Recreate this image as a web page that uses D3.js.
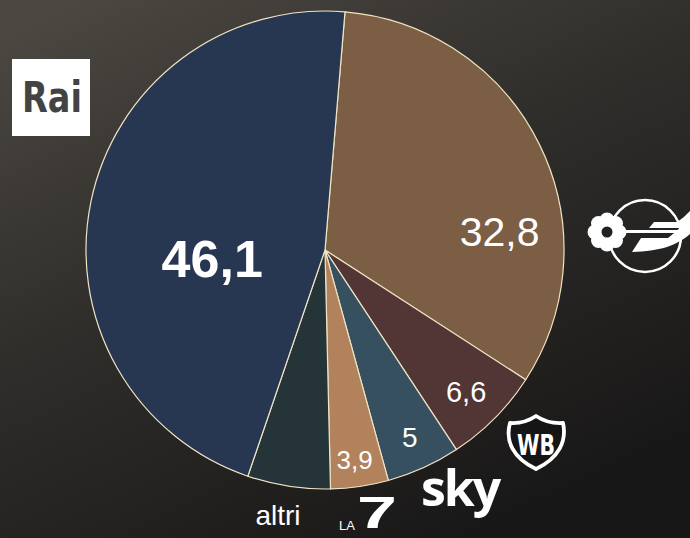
<!DOCTYPE html>
<html>
<head>
<meta charset="utf-8">
<script src="https://cdn.jsdelivr.net/npm/d3@7"></script>
<style>
  html, body { margin: 0; padding: 0; background: #1b1a19; }
  svg { display: block; }
</style>
</head>
<body>
<svg id="chart" width="690" height="538"></svg>
<script>
// share of audience by broadcaster
var broadcasters = ["Mediaset", "Warner Bros. Discovery", "Sky", "La7", "altri", "Rai"];
var shares = [32.8, 6.6, 5, 3.9, 5.6, 46.1];
var labels = ["32,8", "6,6", "5", "3,9", "", "46,1"];
var colors = ["#7b5e43", "#523535", "#36505f", "#b2825d", "#243438", "#273651"];

var svg = d3.select("#chart"),
    width = +svg.attr("width"),
    height = +svg.attr("height");

// background
var defs = svg.append("defs");
var bg = defs.append("linearGradient").attr("id", "bg")
  .attr("x1", 0.1).attr("y1", 0).attr("x2", 0.7).attr("y2", 1);
bg.append("stop").attr("offset", "0%").attr("stop-color", "#4b4741");
bg.append("stop").attr("offset", "45%").attr("stop-color", "#302e2b");
bg.append("stop").attr("offset", "100%").attr("stop-color", "#181717");
svg.append("rect").attr("width", width).attr("height", height).attr("fill", "url(#bg)");

var cx = 325, cy = 250, radius = 239;
var startA = 4.8 * Math.PI / 180;

var pie = d3.pie().sort(null)
  .startAngle(startA).endAngle(startA + 2 * Math.PI);
var arcs = pie(shares);

var arc = d3.arc().innerRadius(0).outerRadius(radius);

var g = svg.append("g").attr("transform", "translate(" + cx + "," + cy + ")");

g.selectAll("path")
  .data(arcs)
  .enter().append("path")
    .attr("d", arc)
    .attr("fill", function(d, i) { return colors[i]; })
    .attr("stroke", "#efe4c4")
    .attr("stroke-width", 1.2)
    .attr("stroke-linejoin", "round");

// label placement: fraction of the slice's angle, fraction of radius, font size, weight
var labelPos = [
  {a: 0.67, r: 0.735, size: 41, weight: "normal"},
  {a: 0.51, r: 0.835, size: 29, weight: "normal"},
  {a: 0.50, r: 0.86, size: 28, weight: "normal"},
  {a: 0.52, r: 0.885, size: 26, weight: "normal"},
  {a: 0.5, r: 0.8, size: 22, weight: "normal"},
  {a: 0.405, r: 0.473, size: 52, weight: "bold"}
];

var font = "Liberation Sans, Arial, sans-serif";

g.selectAll("text.val")
  .data(arcs)
  .enter().append("text")
    .attr("class", "val")
    .attr("transform", function(d, i) {
      var p = labelPos[i];
      var a = d.startAngle + (d.endAngle - d.startAngle) * p.a;
      var r = radius * p.r;
      return "translate(" + (r * Math.sin(a)) + "," + (-r * Math.cos(a)) + ")";
    })
    .attr("text-anchor", "middle")
    .attr("dy", "0.36em")
    .attr("fill", "#ffffff")
    .attr("font-family", font)
    .attr("font-size", function(d, i) { return labelPos[i].size; })
    .attr("font-weight", function(d, i) { return labelPos[i].weight; })
    .text(function(d, i) { return labels[i]; });

// broadcaster marks around the pie

// Rai
svg.append("rect").attr("x", 12).attr("y", 59).attr("width", 78).attr("height", 77).attr("fill", "#ffffff");
svg.append("text").attr("x", 22).attr("y", 112)
  .attr("font-family", "DejaVu Sans, sans-serif").attr("font-weight", "bold").attr("font-size", 43)
  .attr("textLength", 60).attr("lengthAdjust", "spacingAndGlyphs")
  .attr("fill", "#434343").text("Rai");

// Mediaset
var ms = svg.append("g").attr("fill", "#ffffff");
ms.append("circle").attr("cx", 645).attr("cy", 236).attr("r", 36)
  .attr("fill", "none").attr("stroke", "#ffffff").attr("stroke-width", 2.5);
ms.append("rect").attr("x", 620).attr("y", 230).attr("width", 70).attr("height", 3);
ms.append("path").attr("d", "M649,228 L654,222 L677,222 C682,219 686,215 690,211 L690,228 Z");
ms.append("path").attr("d", "M632,252 L641,238 L668,238 C676,232 683,225 690,217 L690,234 C676,246 660,251 632,252 Z");
var petals = d3.range(8).map(function(i) { return i * Math.PI / 4; });
ms.selectAll("circle.petal").data(petals).enter().append("circle")
  .attr("cx", function(a) { return 607 + 12 * Math.cos(a); })
  .attr("cy", function(a) { return 232 + 12 * Math.sin(a); })
  .attr("r", 7.5);
ms.append("circle").attr("cx", 607).attr("cy", 232).attr("r", 12);
ms.append("circle").attr("cx", 607).attr("cy", 232).attr("r", 5.5).attr("fill", "#222120");

// Warner Bros. shield
var wb = svg.append("g");
wb.append("path")
  .attr("d", "M510,423 Q524,424 536,416 Q548,424 563,423 C567,441 559,458 536,469 C513,458 505,441 510,423 Z")
  .attr("fill", "#161515").attr("stroke", "#ffffff").attr("stroke-width", 3.8).attr("stroke-linejoin", "round");
wb.append("text").attr("x", 536).attr("y", 455).attr("text-anchor", "middle")
  .attr("font-family", "DejaVu Sans Condensed, DejaVu Sans, sans-serif").attr("font-weight", "bold").attr("font-size", 28)
  .attr("fill", "#ffffff")
  .attr("textLength", 38).attr("lengthAdjust", "spacingAndGlyphs").text("WB");

// Sky
svg.append("text").attr("x", 421).attr("y", 506)
  .attr("font-family", "Open Sans, sans-serif").attr("font-weight", "bold").attr("font-size", 50)
  .attr("letter-spacing", -2).attr("fill", "#ffffff").text("sky");

// altri
svg.append("text").attr("x", 278).attr("y", 525).attr("text-anchor", "middle")
  .attr("font-family", font).attr("font-size", 28).attr("fill", "#ffffff").text("altri");

// La7
svg.append("text").attr("x", 339).attr("y", 530)
  .attr("font-family", font).attr("font-size", 13).attr("fill", "#ffffff").text("LA");
svg.append("text").attr("x", 357).attr("y", 528)
  .attr("font-family", font).attr("font-weight", "bold").attr("font-size", 44)
  .attr("textLength", 40).attr("lengthAdjust", "spacingAndGlyphs")
  .attr("fill", "#ffffff").text("7");
</script>
</body>
</html>
